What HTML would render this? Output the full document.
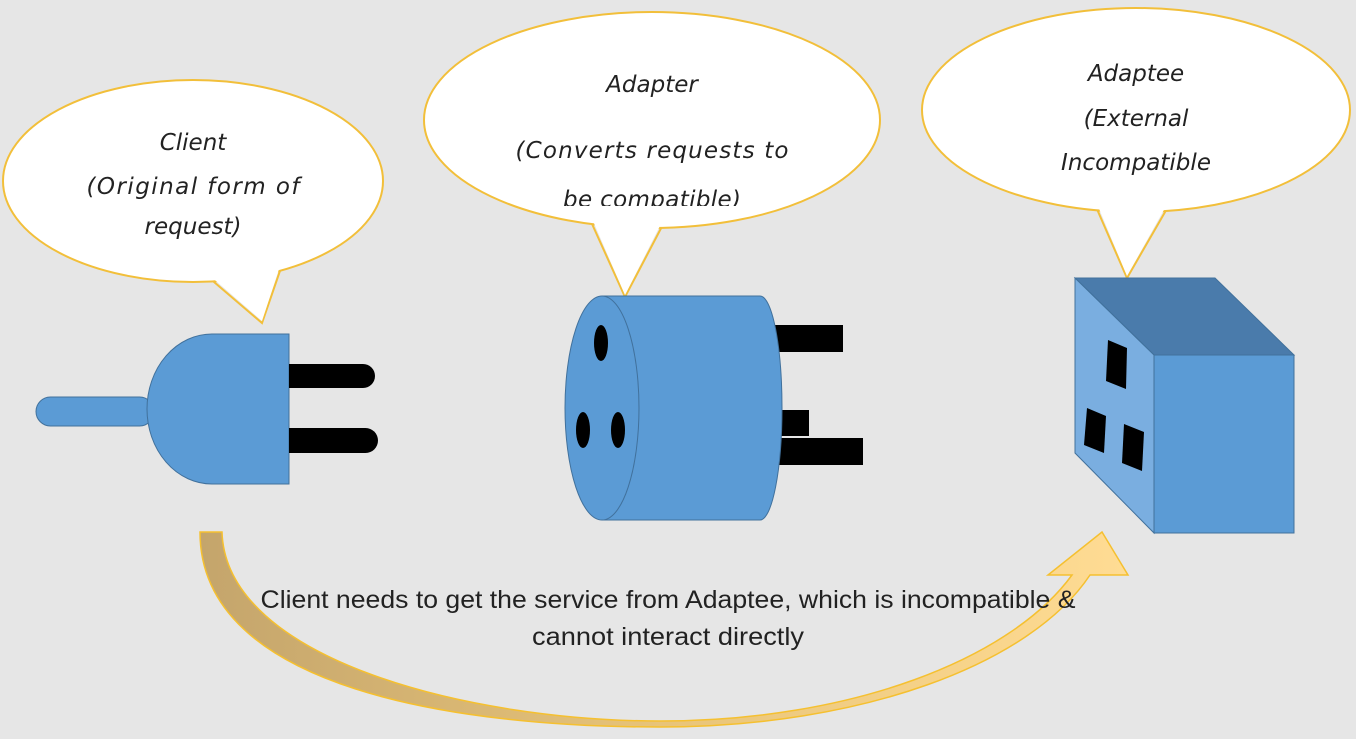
<!DOCTYPE html>
<html><head><meta charset="utf-8"><style>
html,body{margin:0;padding:0;background:#e6e6e6;}
svg{display:block}
.h{font-family:"DejaVu Sans","Liberation Sans",sans-serif;font-style:italic;font-size:23px;fill:#222;text-anchor:middle}
.b{font-family:"Liberation Sans",sans-serif;font-size:25px;fill:#222;text-anchor:middle}
</style></head><body>
<svg width="1356" height="739" viewBox="0 0 1356 739" xmlns="http://www.w3.org/2000/svg">
<defs>
<linearGradient id="g" x1="0" x2="1" y1="0" y2="0">
<stop offset="0" stop-color="#c4a56c"/><stop offset="0.5" stop-color="#e8c479"/><stop offset="1" stop-color="#ffdc94"/>
</linearGradient>
<clipPath id="c2"><rect x="0" y="0" width="1356" height="206"/></clipPath>
</defs>
<rect width="1356" height="739" fill="#e6e6e6"/>
<!-- bubbles -->
<g stroke="#f2bf3a" stroke-width="2" fill="#fff">
<polyline points="200,270 262,323 282,265" fill="none"/>
<ellipse cx="193" cy="181" rx="190" ry="101"/>
<polyline points="588,215 625,297 668,215" fill="none"/>
<ellipse cx="652" cy="120" rx="228" ry="108"/>
<polyline points="1093,200 1127,278 1172,200" fill="none"/>
<ellipse cx="1136" cy="110" rx="214" ry="102"/>
</g>
<g fill="#fff">
<polygon points="201,268 262,321 281,263 245,250"/>
<polygon points="590,214 625,295 666,214 630,200"/>
<polygon points="1095,199 1127,276 1170,199 1130,190"/>
</g>
<text class="h" x="193" y="150">Client</text>
<text class="h" x="193" y="194" textLength="213">(Original form of</text>
<text class="h" x="193" y="234">request)</text>
<text class="h" x="652" y="92">Adapter</text>
<text class="h" x="652" y="158" textLength="273">(Converts requests to</text>
<g clip-path="url(#c2)"><text class="h" x="652" y="207" textLength="178">be compatible)</text></g>
<text class="h" x="1136" y="81">Adaptee</text>
<text class="h" x="1136" y="126">(External</text>
<text class="h" x="1136" y="170" textLength="150">Incompatible</text>
<!-- plug -->
<rect x="36" y="397" width="118" height="29" rx="14.5" fill="#5b9bd5" stroke="#41719c"/>
<path d="M289,334 L212,334 A65,75 0 0 0 212,484 L289,484 Z" fill="#5b9bd5" stroke="#41719c"/>
<rect x="289" y="364" width="86" height="24" rx="12" fill="#000"/>
<rect x="289" y="428" width="89" height="25" rx="12.5" fill="#000"/>
<rect x="289" y="364" width="12" height="24" fill="#000"/>
<rect x="289" y="428" width="12" height="25" fill="#000"/>
<!-- adapter -->
<rect x="773" y="325" width="70" height="27" fill="#000"/>
<rect x="778" y="410" width="31" height="26" fill="#000"/>
<rect x="778" y="438" width="85" height="27" fill="#000"/>
<path d="M602,296 L760,296 A22,112 0 0 1 760,520 L602,520 Z" fill="#5b9bd5" stroke="#41719c"/>
<ellipse cx="602" cy="408" rx="37" ry="112" fill="#5b9bd5" stroke="#41719c"/>
<ellipse cx="601" cy="343" rx="7" ry="18" fill="#000"/>
<ellipse cx="583" cy="430" rx="7" ry="18" fill="#000"/>
<ellipse cx="618" cy="430" rx="7" ry="18" fill="#000"/>
<!-- cube -->
<polygon points="1075,278 1215,278 1294,355 1154,355" fill="#4a7bab" stroke="#41719c"/>
<polygon points="1075,278 1154,355 1154,533 1075,453" fill="#7aaee0" stroke="#41719c"/>
<rect x="1154" y="355" width="140" height="178" fill="#5b9bd5" stroke="#41719c"/>
<polygon points="1108,340 1127,348 1126,389 1106,381" fill="#000"/>
<polygon points="1087,408 1106,416 1104,453 1084,445" fill="#000"/>
<polygon points="1124,424 1144,432 1142,471 1122,463" fill="#000"/>
<!-- arrow -->
<path d="M200,532 L222,532 C226,660 470,721 660,721 C850,721 1010,660 1072,575 L1048,575 L1102,532 L1128,575 L1090,575 C1030,665 860,727 660,727 C460,727 200,690 200,532 Z" fill="url(#g)" stroke="#f5c030" stroke-width="1.5"/>
<text class="b" x="668" y="608" textLength="815" lengthAdjust="spacingAndGlyphs">Client needs to get the service from Adaptee, which is incompatible &amp;</text>
<text class="b" x="668" y="645" textLength="272" lengthAdjust="spacingAndGlyphs">cannot interact directly</text>
</svg>
</body></html>
